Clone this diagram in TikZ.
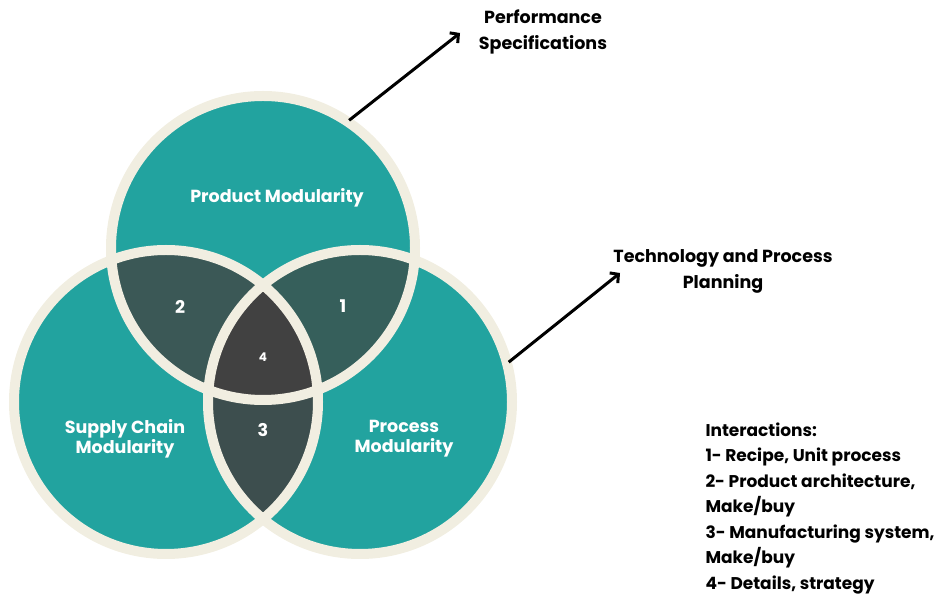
\documentclass[tikz,border=0pt]{standalone}
\usepackage{fontspec}
\setmainfont{Poppins}
\usetikzlibrary{arrows.meta,calc}
\definecolor{vteal}{HTML}{22A39F}
\definecolor{vcream}{HTML}{F1EEE1}
\definecolor{vone}{HTML}{365F5B}
\definecolor{vtwo}{HTML}{3B5856}
\definecolor{vthree}{HTML}{3D4E4E}
\definecolor{vfour}{HTML}{414141}
\begin{document}
\begin{tikzpicture}[x=1pt,y=1pt,
		ring/.style={draw=vcream, line width=10pt},
		inlabel/.style={text=white, font=\bfseries\fontsize{17.5}{20}\selectfont, align=center},
		outlabel/.style={text=black, font=\bfseries\fontsize{17.5}{26}\selectfont, align=center},
		pointer/.style={-{Straight Barb[length=6pt,width=13pt]}, line width=3pt}]
				\useasboundingbox (0,0) rectangle (940,594);
				\coordinate (T) at (263,346);
				\coordinate (L) at (166,192);
				\coordinate (R) at (360,192);
				% circles
				\fill [vteal] (T) circle(152);
				\fill [vteal] (L) circle(152);
				\fill [vteal] (R) circle(152);
				\begin{scope}
					\clip (T) circle(152);
					\fill [vone] (R) circle(152);
					\fill [vtwo] (L) circle(152);
				\end{scope}
				\begin{scope}
					\clip (L) circle(152);
					\fill [vthree] (R) circle(152);
					\clip (R) circle(152);
					\fill [vfour] (T) circle(152);
				\end{scope}
				\draw [ring] (T) circle(152);
				\draw [ring] (L) circle(152);
				\draw [ring] (R) circle(152);
				% labels
				\node [inlabel] (product) at (277,396) {Product Modularity};
				\node [inlabel] (supply) at (125,155) {Supply Chain\\Modularity};
				\node [inlabel] (process) at (404,155) {Process\\Modularity};
				\node [inlabel] (one) at (343,288) {1};
				\node [inlabel] (two) at (180,287) {2};
				\node [inlabel] (three) at (263,164) {3};
				\node [inlabel, font=\bfseries\fontsize{12}{14}\selectfont] (four) at (263,237) {4};
				\node [outlabel] (perf) at (543,562) {Performance\\Specifications};
				\node [outlabel] (tech) at (723,323) {Technology and Process\\Planning};
				\node [outlabel, align=left, anchor=north west, font=\bfseries\fontsize{17}{25.5}\selectfont] (inter) at (702,175)
					{Interactions:\\1- Recipe, Unit process\\2- Product architecture,\\Make/buy\\3- Manufacturing system,\\Make/buy\\4- Details, strategy};
				% arrows
				\coordinate (Tout) at ($(T)+(56:154)$);
				\coordinate (Rout) at ($(R)+(15:154)$);
				\coordinate (perfend) at (460,561);
				\coordinate (techend) at (620,321);
				\draw [pointer] (Tout) -- (perfend);
				\draw [pointer] (Rout) -- (techend);
			\end{tikzpicture}
\end{document}
